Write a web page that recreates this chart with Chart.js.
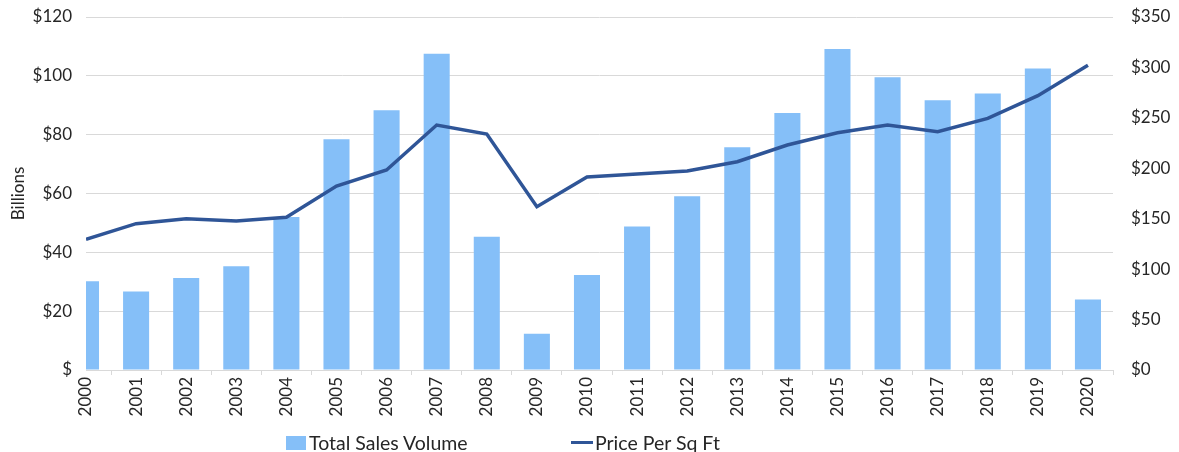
<!DOCTYPE html>
<html>
<head>
<meta charset="utf-8">
<script src="https://cdn.jsdelivr.net/npm/chart.js@4.4.0/dist/chart.umd.min.js"></script>
<style>
    html, body { margin: 0; padding: 0; background: #fff; }
    #wrap { position: relative; width: 1179px; height: 452px; overflow: hidden; }
    #legend { position: absolute; top: 431px; left: 0; width: 1179px; font-family: Lato, sans-serif; font-size: 19.5px; color: #262626; }
    .item { position: absolute; top: 0; display: flex; align-items: center; white-space: nowrap; }
    .box { display: inline-block; width: 20px; height: 14px; background: #85BFF8; margin-right: 3px; }
    .ln { display: inline-block; width: 22px; height: 3px; background: #2F5597; margin-right: 2px; }
</style>
</head>
<body>
<div id="wrap">
    <canvas id="salesChart" width="1179" height="452"></canvas>
    <div id="legend">
        <div class="item" style="left:286px"><span class="box"></span><span id="lgBar"></span></div>
        <div class="item" style="left:571px"><span class="ln"></span><span id="lgLine"></span></div>
    </div>
</div>
<script>
// Dữ liệu
const years = [2000, 2001, 2002, 2003, 2004, 2005, 2006, 2007, 2008, 2009, 2010,
               2011, 2012, 2013, 2014, 2015, 2016, 2017, 2018, 2019, 2020];
const salesVolume = [30.2, 26.7, 31.3, 35.3, 52.0, 78.4, 88.3, 107.5, 45.3, 12.3, 32.3,
                     48.8, 59.1, 75.7, 87.4, 109.1, 99.5, 91.7, 94.0, 102.5, 24.0];
const pricePerSqFt = [129.6, 145.1, 150.0, 147.7, 151.4, 182.4, 198.3, 242.9, 234.0, 161.9, 191.4,
                      194.3, 197.3, 206.5, 223.1, 235.3, 242.9, 236.3, 249.5, 272.0, 302.1];
const leftTickLabels = ['$', '$20', '$40', '$60', '$80', '$100', '$120'];
const rightTickLabels = ['$0', '$50', '$100', '$150', '$200', '$250', '$300', '$350'];
const barLabel = 'Total Sales Volume';
const lineLabel = 'Price Per Sq Ft';
const leftAxisTitle = 'Billions';

document.getElementById('lgBar').textContent = barLabel;
document.getElementById('lgLine').textContent = lineLabel;

const tickFont = { family: 'Lato', size: 17 };
const gridColor = '#d9d9d9';
const textColor = '#262626';

// Cố định độ rộng trục dọc, bỏ phần đệm tự động phía trên/dưới
function fixWidth(w) {
    return s => {
        s.width = w;
        s.paddingTop = 0;
        s.paddingBottom = 0;
    };
}

const ctx = document.getElementById('salesChart');
new Chart(ctx, {
    data: {
        datasets: [{
            type: 'line',
            label: lineLabel,
            data: years.map((y, i) => ({ x: y, y: pricePerSqFt[i] })),
            borderColor: '#2F5597',
            borderWidth: 3.5,
            pointRadius: 0,
            tension: 0,
            yAxisID: 'y1',
            order: 0
        }, {
            type: 'bar',
            label: barLabel,
            data: years.map((y, i) => ({ x: y, y: salesVolume[i] })),
            backgroundColor: '#85BFF8',
            borderWidth: 0,
            barPercentage: 0.52,
            categoryPercentage: 1,
            yAxisID: 'y',
            clip: 0,
            order: 1
        }]
    },
    options: {
        responsive: false,
        animation: false,
        layout: { padding: { top: 17, bottom: 30, left: 0, right: 0 } },
        plugins: {
            legend: { display: false },
            tooltip: { enabled: false }
        },
        scales: {
            x: {
                type: 'linear',
                min: 2000,
                max: 2020.5,
                offset: false,
                afterFit: s => { s.height = 52; s.paddingLeft = 0; s.paddingRight = 0; },
                grid: { drawOnChartArea: false, drawTicks: true, tickLength: 5, color: gridColor },
                border: { display: true, color: gridColor },
                ticks: {
                    stepSize: 1,
                    includeBounds: false,
                    autoSkip: false,
                    maxRotation: 90,
                    minRotation: 90,
                    padding: 2,
                    color: textColor,
                    font: tickFont,
                    callback: v => String(v)
                }
            },
            y: {
                position: 'left',
                min: 0,
                max: 120,
                afterFit: fixWidth(86),
                grid: { color: gridColor, drawTicks: false },
                border: { display: false },
                title: { display: true, text: leftAxisTitle, color: textColor, font: { family: 'Lato', size: 17 }, padding: { top: 8, bottom: 0 } },
                ticks: {
                    stepSize: 20,
                    padding: 14,
                    color: textColor,
                    font: tickFont,
                    callback: v => leftTickLabels[v / 20]
                }
            },
            y1: {
                position: 'right',
                min: 0,
                max: 350,
                afterFit: fixWidth(66),
                grid: { drawOnChartArea: false, drawTicks: false },
                border: { display: false },
                ticks: {
                    stepSize: 50,
                    padding: 18,
                    color: textColor,
                    font: tickFont,
                    callback: v => rightTickLabels[v / 50]
                }
            }
        }
    }
});
</script>
</body>
</html>
